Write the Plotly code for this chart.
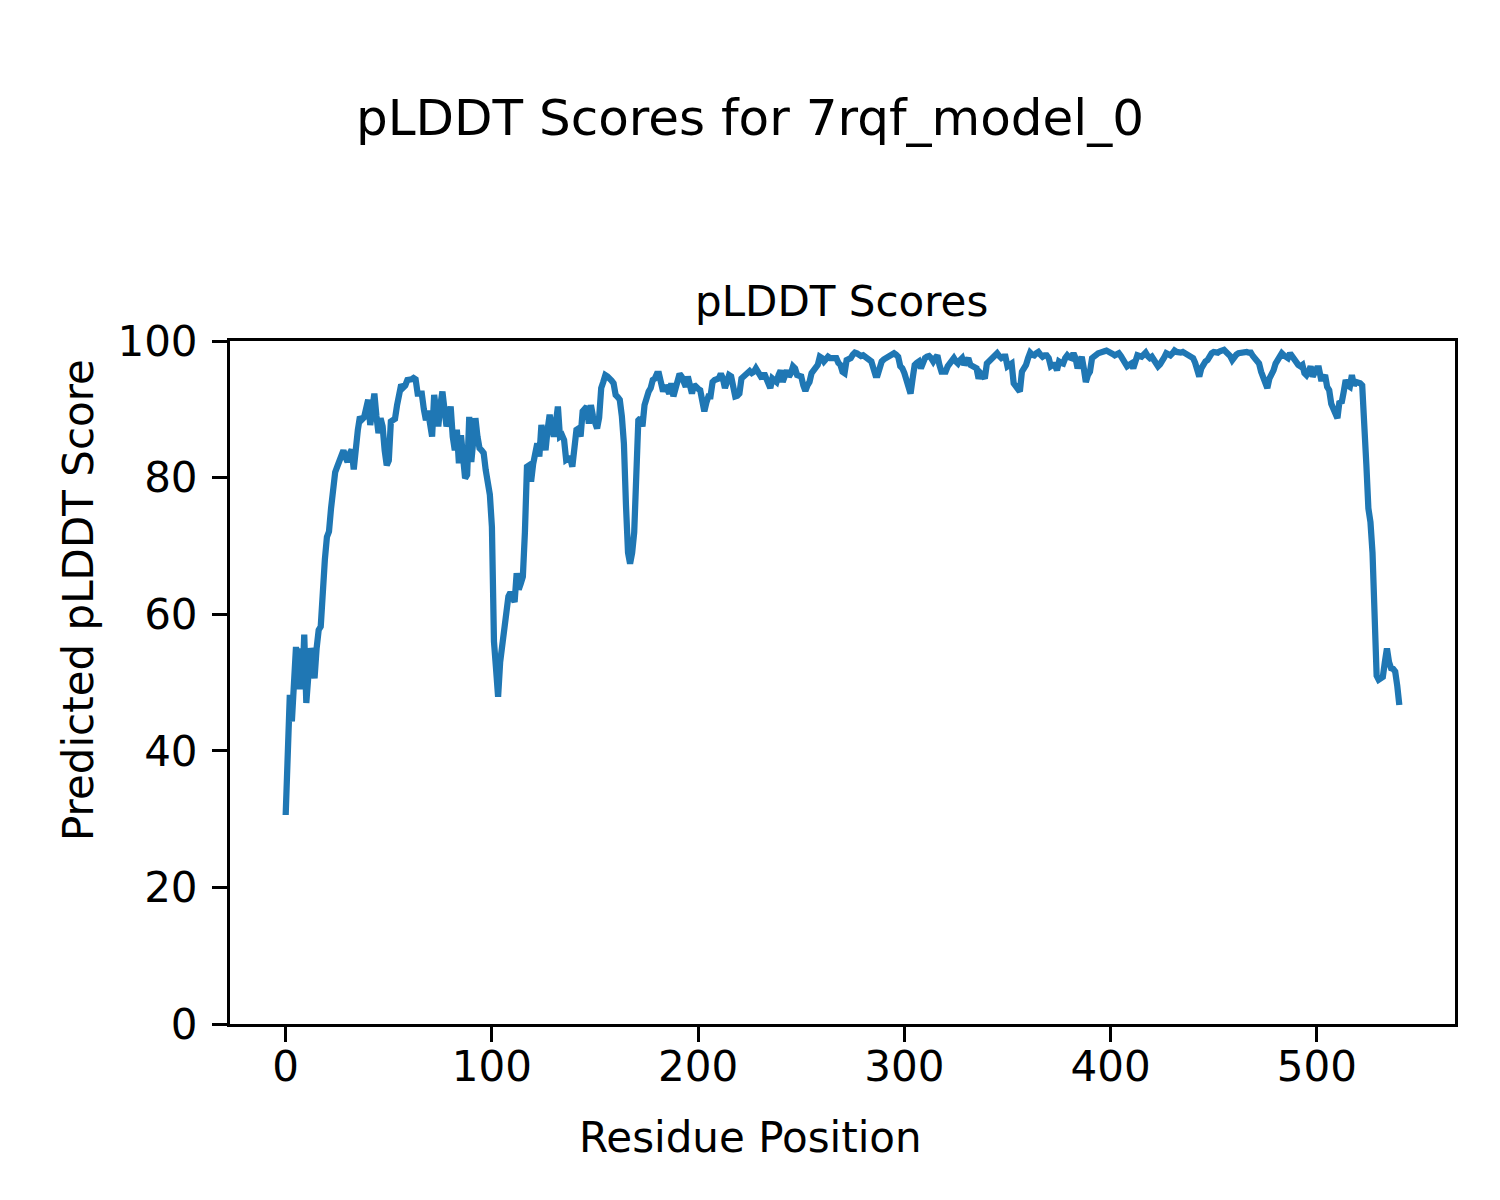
import plotly.graph_objects as go

# pLDDT score per residue
plddt_scores = [
    30.6, 43.5, 48.2, 44.3, 52, 55.2, 49, 55, 49, 57,
    47, 52, 55, 54, 50.6, 55, 57.7, 58.2, 65.5, 68,
    71.3, 72.1, 75.5, 79.2, 80.8, 81.6, 82.6, 83, 84, 83,
    82.3, 83.5, 84.1, 81.2, 85, 87, 88.9, 88.5, 88.8, 90.6,
    91.4, 87.7, 90, 92.3, 89, 86.5, 88.7, 87.5, 84, 81.8,
    82.5, 88.2, 88.4, 88.6, 90.6, 92, 93.6, 93.2, 93.5, 94.3,
    94.3, 94.4, 94.6, 94.4, 92.3, 92.3, 92.3, 90, 88.4, 89.8,
    88, 86, 92.1, 90, 87.5, 90.6, 92.6, 90, 87.5, 88.5,
    90.4, 86, 84, 87, 82.1, 86.2, 83, 79.9, 80.4, 88.9,
    82.3, 85, 88.7, 86, 84.3, 84, 83.6, 81.1, 79, 77.5,
    72.8, 56, 52, 47.9, 53, 55.5, 57.7, 60, 62.6, 63.2,
    62.5, 61.8, 66, 63.6, 64.5, 65.5, 72, 81.6, 81.8, 79.4,
    82, 84, 85, 83.1, 87.7, 86, 84, 87, 89.2, 87.5,
    86, 88, 90.4, 86, 86.2, 85.5, 82.6, 82.8, 82.8, 81.6,
    84, 87, 87.2, 86, 89.7, 90, 90.4, 87.9, 90.6, 89,
    88, 87.2, 88.8, 93.1, 94, 95, 94.8, 94.6, 94.2, 93.8,
    92.1, 91.8, 91.4, 89, 85, 76, 69, 67.4, 69, 72,
    80, 88.4, 88.7, 87.5, 90.6, 92, 92.6, 93.1, 94.3, 94.5,
    95.2, 95.2, 94, 92.6, 93.5, 92.8, 92.3, 93.8, 91.9, 93,
    93.8, 95.2, 94.8, 94, 93.3, 94.8, 93.5, 92.3, 93.6, 93.2,
    93, 92.8, 91.2, 89.7, 91, 91.9, 91.9, 94, 94.3, 94.3,
    94.5, 95.2, 94.5, 93.1, 94.5, 95, 94.8, 93, 91.9, 92,
    92.3, 94.5, 94.8, 95, 95.3, 95.6, 95.3, 95.5, 96, 95.5,
    94.8, 94.5, 95.3, 94.5, 93.5, 93.1, 94.5, 94.2, 94, 95,
    95.7, 94, 94.8, 95.7, 94.8, 95.3, 96.3, 96, 95, 94.9,
    94.8, 93.5, 92.7, 93.5, 94, 95.3, 95.7, 96, 96.5, 97.7,
    97.5, 97, 97.3, 97.7, 97.5, 97.5, 97.3, 97.5, 96.8, 96.5,
    95.5, 95.3, 97.2, 97.3, 97.5, 98, 98.3, 98.2, 97.9, 97.8,
    97.9, 97.6, 97.4, 97.2, 97, 96, 95, 95, 96.2, 97,
    97.3, 97.5, 97.7, 97.9, 98, 98.2, 98, 97.7, 96.3, 96,
    95.3, 94, 92.6, 92.3, 94.5, 96.5, 96.8, 97, 96, 96.8,
    97.5, 97.7, 97.8, 97.5, 97, 97.5, 97.9, 96.5, 95.5, 95.5,
    95.5, 96.3, 96.7, 97.1, 97.5, 97, 96.7, 97.2, 97.5, 96.5,
    97, 97.5, 96.5, 96.4, 96.3, 96, 94.5, 95.3, 95, 94.5,
    96.7, 97, 97.5, 97.8, 98, 98.2, 97.8, 97.5, 97.7, 97.7,
    96.3, 96.5, 96.7, 93.8, 93.5, 93, 92.6, 95.5, 96, 96.5,
    97.5, 98.3, 98, 97.9, 98.2, 98.4, 98, 97.7, 97.9, 97.9,
    97.5, 96.3, 96.5, 96.5, 95.7, 97, 96.8, 96.7, 97.5, 97.9,
    97.6, 97.5, 98.2, 97.5, 96, 97, 97.7, 96, 94, 95,
    95.5, 97.5, 97.8, 98, 98.2, 98.3, 98.3, 98.5, 98.6, 98.5,
    98.3, 98.1, 97.9, 98, 98.2, 97.8, 97.2, 96.8, 96.3, 96.5,
    96.7, 96, 97, 97.9, 97.8, 97.7, 98, 98.3, 97.8, 97.5,
    97.7, 97.2, 96.8, 96.3, 96.6, 97, 97.6, 98.2, 98, 97.9,
    98.2, 98.6, 98.4, 98.3, 98.3, 98.4, 98.2, 98, 97.9, 97.7,
    97.5, 96.8, 96, 94.8, 96, 96.7, 97, 97.2, 97.9, 98.2,
    98.4, 98.3, 98.3, 98.5, 98.6, 98.7, 98.4, 98.2, 97.8, 97.2,
    97.8, 98, 98.2, 98.3, 98.3, 98.4, 98.4, 98.3, 98.3, 97.8,
    97.5, 97, 96.7, 95.5, 94.5, 93.5, 93.1, 94.5, 95, 95.7,
    96.7, 97.2, 97.7, 98.2, 97.9, 97.8, 97.5, 98.2, 97.7, 97.2,
    96.7, 96.5, 96.3, 96.5, 95.3, 95, 95.5, 96.3, 94.8, 95.5,
    96, 96, 94.5, 94.5, 95, 93.3, 92.8, 90.8, 90, 89.5,
    88.7, 91.2, 90.9, 92.5, 94.3, 93.5, 93.3, 95, 93.5, 94,
    94, 93.8, 93.5, 89, 82, 75.5, 73.5, 69, 60.5, 51,
    50.4, 50.6, 50.8, 53, 55, 53, 52.1, 52, 51.6, 49.5, 46.7,
]
residues = list(range(len(plddt_scores)))

x_ticks = [0, 100, 200, 300, 400, 500]
y_ticks = [0, 20, 40, 60, 80, 100]

fig_title = "pLDDT Scores for 7rqf_model_0"
axes_title = "pLDDT Scores"
x_label = "Residue Position"
y_label = "Predicted pLDDT Score"

FONT = "DejaVu Sans"
W, H = 1500, 1200
L, R, T, B = 230, 45, 341, 176
PW, PH = W - L - R, H - T - B


def px(xp):
    return (xp - L) / PW


def py(yp):
    return (H - B - yp) / PH


fig = go.Figure()
fig.add_trace(go.Scatter(
    x=residues, y=plddt_scores, mode="lines",
    line=dict(color="#1f77b4", width=6.25),
    showlegend=False,
))

axis_common = dict(
    showline=True, mirror=True, linecolor="black", linewidth=3,
    ticks="outside", ticklen=15, tickwidth=3, tickcolor="black",
    showgrid=False, zeroline=False,
    tickfont=dict(family=FONT, size=42, color="black"),
)

fig.update_layout(
    width=W, height=H, autosize=False,
    margin=dict(l=L, r=R, t=T, b=B, pad=0),
    paper_bgcolor="white", plot_bgcolor="white",
    font=dict(family=FONT, color="black"),
    xaxis=dict(range=[-27, 567], tickvals=x_ticks, ticklabelstandoff=-11, **axis_common),
    yaxis=dict(range=[0, 100], tickvals=y_ticks, ticklabelstandoff=6, **axis_common),
    annotations=[
        dict(text=fig_title, x=px(750), y=py(118), xref="paper", yref="paper",
             xanchor="center", yanchor="middle", showarrow=False,
             font=dict(family=FONT, size=50, color="black")),
        dict(text=axes_title, x=px(841), y=py(302), xref="paper", yref="paper",
             xanchor="center", yanchor="middle", showarrow=False,
             font=dict(family=FONT, size=42, color="black")),
        dict(text=x_label, x=px(750), y=py(1137), xref="paper", yref="paper",
             xanchor="center", yanchor="middle", showarrow=False,
             font=dict(family=FONT, size=42, color="black")),
        dict(text=y_label, x=px(78), y=py(600), xref="paper", yref="paper",
             xanchor="center", yanchor="middle", showarrow=False, textangle=-90,
             font=dict(family=FONT, size=42, color="black")),
    ],
)

fig.write_html("out.html", config={"displayModeBar": False},
               post_script="document.body.style.margin='0';")
